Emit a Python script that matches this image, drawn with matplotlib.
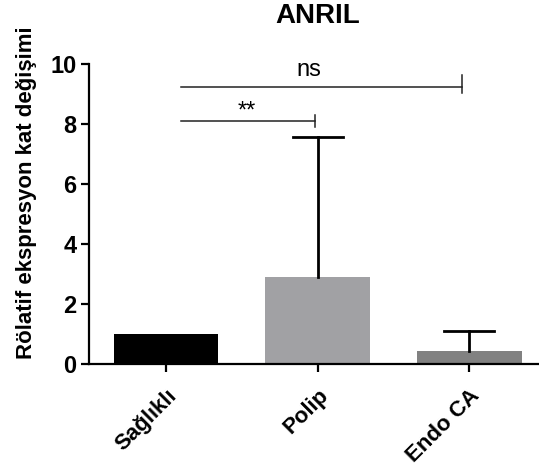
import matplotlib.pyplot as plt

plt.rcParams['font.family'] = ['Liberation Sans', 'DejaVu Sans']

# Values
groups = ['Sağlıklı', 'Polip', 'Endo CA']
means = [1.0, 2.92, 0.42]
err_up = [0.0, 4.65, 0.68]
colors = ['#000000', '#a1a1a4', '#818181']

# significance brackets: (x start, x end, height, label)
sig_ns = (0.10, 1.95, 9.23, 'ns')
sig_star = (0.10, 0.98, 8.10, '**')

fig = plt.figure(figsize=(5.39, 4.65), dpi=100)
ax = fig.add_axes([0.165, 0.217, 0.835, 0.645])

x = list(range(len(groups)))
ax.bar(x, means, width=0.69, color=colors, zorder=2)

# upward-only error bars (Prism style)
for xi, m, e in zip(x, means, err_up):
    if e <= 0:
        continue
    ax.plot([xi, xi], [m, m + e], color='black', lw=2, zorder=3)
    ax.plot([xi - 0.165, xi + 0.165], [m + e, m + e], color='black', lw=2, zorder=3)

# brackets
for x0, x1, h, lab in [sig_ns, sig_star]:
    ax.plot([x0, x1], [h, h], color='#222222', lw=1.1)
    ax.plot([x1, x1], [h - 0.2, h + 0.4 if lab == 'ns' else h + 0.2], color='#222222', lw=1.1)
ax.text(0.94, 9.45, 'ns', ha='center', va='bottom', fontsize=17)
ax.text(0.53, 8.05, '**', ha='center', va='bottom', fontsize=17)

ax.set_xlim(-0.508, 2.46)
ax.set_ylim(0, 10)
ax.set_yticks([0, 2, 4, 6, 8, 10])
ax.set_xticks(x)
ax.set_xticklabels(groups, rotation=45, ha='right', rotation_mode='anchor',
                   fontsize=16, fontweight='bold')
for lbl in ax.get_yticklabels():
    lbl.set_fontsize(17)
    lbl.set_fontweight('bold')

for s in ['top', 'right']:
    ax.spines[s].set_visible(False)
for s in ['left', 'bottom']:
    ax.spines[s].set_linewidth(1.6)
ax.tick_params(axis='both', width=1.6, length=6, pad=3)
ax.tick_params(axis='x', pad=9)

ax.set_ylabel('Rölatif ekspresyon kat değişimi', fontsize=16, fontweight='bold')
ax.yaxis.set_label_coords(-0.115, 0.57)
fig.text(0.59, 0.965, 'ANRIL', ha='center', va='center', fontsize=20, fontweight='bold')

fig.savefig('out.png', dpi=100)
